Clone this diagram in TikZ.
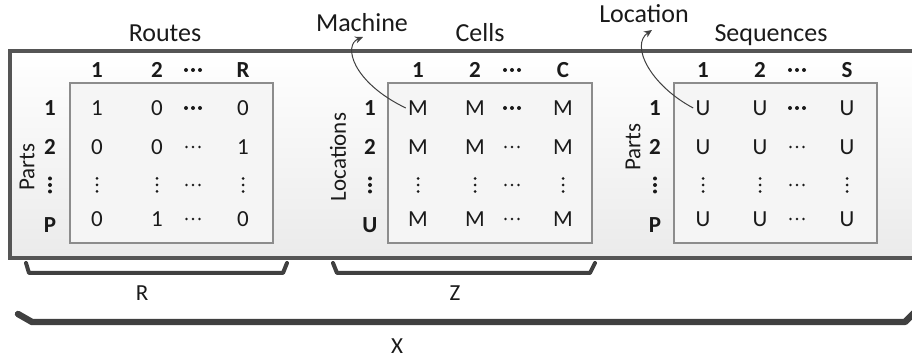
\documentclass[tikz,border=0pt]{standalone}
\usepackage{fontspec}
\setmainfont{Carlito}
\usetikzlibrary{arrows.meta}
\definecolor{frame}{HTML}{555555}
\definecolor{brk}{HTML}{404040}
\definecolor{ibox}{HTML}{8C8C8C}
\definecolor{txt}{HTML}{1A1A1A}
\begin{document}
\begin{tikzpicture}[x=0.5pt,y=-0.5pt,
  ttl/.style={font=\fontsize{13}{15}\selectfont, inner sep=0, anchor=base, text=txt},
  ent/.style={font=\fontsize{11.5}{13}\selectfont, inner sep=1pt, text=txt},
  hdr/.style={font=\fontsize{11.5}{13}\selectfont\bfseries, inner sep=1pt, text=txt},
  side/.style={font=\fontsize{11.5}{13}\selectfont, rotate=90, inner sep=0, text=txt},
  lab/.style={font=\fontsize{11.5}{13}\selectfont, inner sep=0, text=txt},
  brace/.style={draw=brk, line width=2pt, line cap=round, line join=round},
  arr/.style={draw=brk, line width=0.5pt, -{Stealth[length=4pt,width=3.5pt]}},
  matbox/.style={draw=ibox, line width=0.6pt, fill=black!4},
  hd/.pic={\foreach \i in {-1,0,1} \fill[txt] (\i*6.5,0) circle (1.4);},
  hdb/.pic={\foreach \i in {-1,0,1} \fill[txt] (\i*7,0) circle (2);},
  vd/.pic={\foreach \i in {-1,0,1} \fill[txt] (0,\i*6.5) circle (1.5);},
  vdb/.pic={\foreach \i in {-1,0,1} \fill[txt] (0,\i*6.5) circle (2);},
  ]
\useasboundingbox (0,0) rectangle (912,358);
\clip (0,0) rectangle (912,358);

% outer frame
\path[top color=white, bottom color=black!8] (10,51) rectangle (930,258);
\draw[frame, line width=1.6pt] (10,51) rectangle (930,258);

% matrix boxes
\draw[matbox] (70,83) rectangle (273,243);
\draw[matbox] (388,83) rectangle (592,243);
\draw[matbox] (674,83) rectangle (877,243);

% titles
\node[ttl] (routes) at (165,42) {Routes};
\node[ttl] (cells) at (480,42) {Cells};
\node[ttl] (seqs) at (771,42) {Sequences};
\node[ttl] (mach) at (362,31.5) {Machine};
\node[ttl] (loc) at (644,23) {Location};

% side labels
\node[side] (partsA) at (27,167) {Parts};
\node[side] (locs) at (338,157) {Locations};
\node[side] (partsB) at (633,147) {Parts};

% ---------- Routes matrix ----------
\node[hdr] (Rh1) at (97,70) {1};
\node[hdr] (Rh2) at (157,70) {2};
\node[hdr] (Rh4) at (243,70) {R};
\pic at (193,70) {hdb};
\node[hdr] (Rr1) at (50,108) {1};
\node[hdr] (Rr2) at (50,147) {2};
\pic at (50,185) {vdb};
\node[hdr] (Rr4) at (50,225) {P};
\foreach \r/\y/\a/\b/\d in {1/108/1/0/0, 2/147/0/0/1, 4/219/0/1/0}{
  \node[ent] (R\r c1) at (97,\y) {\a};
  \node[ent] (R\r c2) at (157,\y) {\b};
  \node[ent] (R\r c4) at (243,\y) {\d};
}
\pic at (193,108) {hdb};
\pic at (193,147) {hd};
\pic at (193,219) {hd};
\foreach \x in {97,157,243} \pic at (\x,185) {vd};
\pic at (193,185) {hd};

% ---------- Cells matrix ----------
\node[hdr] (Ch1) at (418,70) {1};
\node[hdr] (Ch2) at (475,70) {2};
\node[hdr] (Ch4) at (563,70) {C};
\pic at (512,70) {hdb};
\node[hdr] (Cr1) at (370,108) {1};
\node[hdr] (Cr2) at (370,147) {2};
\pic at (370,185) {vdb};
\node[hdr] (Cr4) at (370,225) {U};
\foreach \r/\y in {1/108, 2/147, 4/219}{
  \node[ent] (C\r c1) at (418,\y) {M};
  \node[ent] (C\r c2) at (475,\y) {M};
  \node[ent] (C\r c4) at (563,\y) {M};
}
\pic at (512,108) {hdb};
\pic at (512,147) {hd};
\pic at (512,219) {hd};
\foreach \x in {418,475,563} \pic at (\x,185) {vd};
\pic at (512,185) {hd};

% ---------- Sequences matrix ----------
\node[hdr] (Sh1) at (703,70) {1};
\node[hdr] (Sh2) at (760,70) {2};
\node[hdr] (Sh4) at (847,70) {S};
\pic at (797,70) {hdb};
\node[hdr] (Sr1) at (655,108) {1};
\node[hdr] (Sr2) at (655,147) {2};
\pic at (655,185) {vdb};
\node[hdr] (Sr4) at (655,225) {P};
\foreach \r/\y in {1/108, 2/147, 4/219}{
  \node[ent] (S\r c1) at (703,\y) {U};
  \node[ent] (S\r c2) at (760,\y) {U};
  \node[ent] (S\r c4) at (847,\y) {U};
}
\pic at (797,108) {hdb};
\pic at (797,147) {hd};
\pic at (797,219) {hd};
\foreach \x in {703,760,847} \pic at (\x,185) {vd};
\pic at (797,185) {hd};

% ---------- callout arrows ----------
\coordinate (machtip) at (363,37);
\coordinate (loctip) at (652,30);
\draw[arr] (C1c1.west) .. controls (352,82) and (343,45) .. (machtip);
\draw[arr] (S1c1.west) .. controls (650,85) and (630,45) .. (loctip);

% ---------- brackets ----------
\draw[brace] (26,263) -- (29,273) -- (283,273) -- (287,263);
\draw[brace] (333,263) -- (337,273) -- (590,273) -- (595,263);
\draw[brace, line width=3.2pt] (18,314) -- (32,322) -- (905,322) -- (914,313);
\node[lab] (lR) at (142,293) {R};
\node[lab] (lZ) at (455,293) {Z};
\node[lab] (lX) at (397,346) {X};
\end{tikzpicture}
\end{document}
